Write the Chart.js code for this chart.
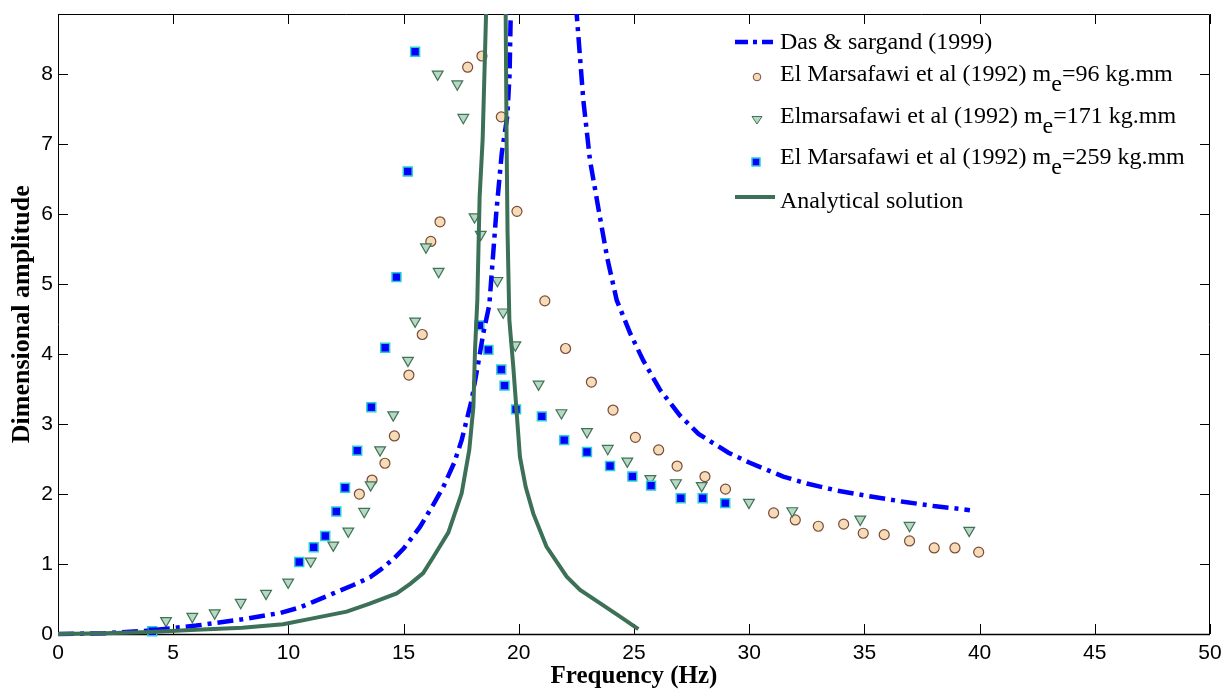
<!DOCTYPE html>
<html>
<head>
<meta charset="utf-8">
<script src="https://cdn.jsdelivr.net/npm/chart.js@4.4.0/dist/chart.umd.min.js"></script>
<style>
    html, body { margin: 0; padding: 0; background: #fff; }
    #wrap { position: relative; width: 1231px; height: 692px; }
    #chart { position: absolute; left: 0; top: 0; }
    .lg { position: absolute; white-space: nowrap; font-family: "Liberation Serif", "Times New Roman", serif; font-size: 24px; line-height: 30px; color: #000; }
    .lg .sub { position: relative; top: 10px; }
    .mk { position: absolute; }
</style>
</head>
<body>
<div id="wrap">
    <canvas id="chart" width="1231" height="692"></canvas>

    <svg class="mk" style="left:730px;top:27px" width="48" height="30">
        <line x1="5" y1="15" x2="43" y2="15" stroke="#0000ff" stroke-width="4.5" stroke-dasharray="13 5 4 5"/>
    </svg>
    <div class="lg" style="left:780px;top:26px">Das &amp; sargand (1999)</div>

    <svg class="mk" style="left:733px;top:62px" width="48" height="30">
        <circle cx="24" cy="15" r="3.8" fill="#f6dcb6" stroke="#7a4a3a" stroke-width="1"/>
    </svg>
    <div class="lg" style="left:780px;top:58px">El Marsafawi et al (1992) m<span class="sub">e</span>=96 kg.mm</div>

    <svg class="mk" style="left:733px;top:105px" width="48" height="30">
        <polygon points="19,11.5 29,11.5 24,19" fill="#b8d8c3" stroke="#3f7357" stroke-width="1"/>
    </svg>
    <div class="lg" style="left:780px;top:100px">Elmarsafawi et al (1992) m<span class="sub">e</span>=171 kg.mm</div>

    <svg class="mk" style="left:732px;top:147px" width="48" height="30">
        <rect x="20" y="11" width="8" height="8" fill="#0000ff" stroke="#2ccfd0" stroke-width="1.5"/>
    </svg>
    <div class="lg" style="left:780px;top:141px">El Marsafawi et al (1992) m<span class="sub">e</span>=259 kg.mm</div>

    <svg class="mk" style="left:730px;top:182px" width="48" height="30">
        <line x1="5" y1="15" x2="45" y2="15" stroke="#3d7157" stroke-width="4"/>
    </svg>
    <div class="lg" style="left:780px;top:185px">Analytical solution</div>
</div>

<script>
// ------------------------
// Axis ticks
// ------------------------
const X_TICKS = [0, 5, 10, 15, 20, 25, 30, 35, 40, 45, 50];
const Y_TICKS = [0, 1, 2, 3, 4, 5, 6, 7, 8];
const Y_MAX = 8.86;

// ------------------------
// Das & sargand (1999) - dash-dot curve (peak runs off the top)
// ------------------------
const DAS_X = [0, 2, 4, 6, 8, 9.64, 10.5, 11.08, 11.95, 12.82, 13.54, 14.0, 14.55, 15.0, 15.71, 16.29, 16.72, 17.2, 17.52, 17.95,
    18.24, 18.46, 18.72, 19.02, 19.26, 19.5, 19.6, 19.65, 21.0, 22.51, 22.8, 23.09, 23.52, 23.84, 24.25, 24.83, 25.4, 26.13,
    27.0, 27.8, 29.1, 30.0, 31.48, 32.5, 33.8, 35.0, 36.69, 38.0, 39.58];
const DAS_Y = [0, 0.01, 0.05, 0.12, 0.21, 0.30, 0.38, 0.46, 0.58, 0.70, 0.81, 0.92, 1.07, 1.22, 1.53, 1.85, 2.10, 2.45, 2.77, 3.34,
    3.87, 4.30, 4.70, 6.01, 6.87, 7.40, 8.00, 8.87, 14.0, 8.87, 7.63, 6.77, 5.96, 5.37, 4.77, 4.30, 3.91, 3.49,
    3.12, 2.86, 2.59, 2.45, 2.25, 2.15, 2.05, 1.98, 1.89, 1.83, 1.77];

// ------------------------
// El Marsafawi et al (1992) me=96 kg.mm - circles
// ------------------------
const M96_X = [13.08, 13.63, 14.19, 14.6, 15.23, 15.81, 16.18, 16.58, 17.78, 18.4, 19.24, 19.92, 21.13, 22.03, 23.15, 24.09,
    25.06, 26.07, 26.87, 28.08, 28.97, 31.06, 32.0, 33.0, 34.1, 34.95, 35.86, 36.96, 38.03, 38.93, 39.96];
const M96_Y = [2.00, 2.20, 2.44, 2.83, 3.70, 4.28, 5.61, 5.89, 8.10, 8.26, 7.39, 6.04, 4.76, 4.08, 3.60, 3.20,
    2.81, 2.63, 2.40, 2.25, 2.07, 1.73, 1.63, 1.54, 1.57, 1.44, 1.42, 1.33, 1.23, 1.23, 1.17];

// ------------------------
// Elmarsafawi et al (1992) me=171 kg.mm - triangles
// ------------------------
const M171_X = [4.69, 5.83, 6.8, 7.93, 9.03, 9.99, 10.97, 11.95, 12.6, 13.29, 13.57, 13.98, 14.55, 15.19, 15.5, 15.97, 16.52,
    16.48, 17.33, 17.59, 18.08, 18.35, 19.07, 19.32, 19.85, 20.86, 21.85, 22.96, 23.86, 24.71, 25.71, 26.82, 27.94,
    29.99, 31.87, 34.82, 36.96, 39.55];
const M171_Y = [0.19, 0.25, 0.30, 0.45, 0.58, 0.74, 1.04, 1.27, 1.47, 1.75, 2.13, 2.63, 3.13, 3.91, 4.47, 5.53, 5.18,
    8.00, 7.86, 7.38, 5.96, 5.71, 5.05, 4.60, 4.13, 3.57, 3.16, 2.89, 2.65, 2.47, 2.22, 2.16, 2.12,
    1.88, 1.76, 1.64, 1.55, 1.48];

// ------------------------
// El Marsafawi et al (1992) me=259 kg.mm - squares
// ------------------------
const M259_X = [4.09, 10.47, 11.1, 11.6, 12.08, 12.46, 12.99, 13.6, 14.2, 14.69, 15.18, 15.5, 18.29, 18.68, 19.24, 19.38,
    19.88, 21.0, 21.97, 22.96, 23.96, 24.93, 25.74, 27.03, 27.98, 28.96];
const M259_Y = [0.04, 1.03, 1.24, 1.40, 1.75, 2.09, 2.62, 3.24, 4.09, 5.10, 6.61, 8.32, 4.41, 4.06, 3.78, 3.55,
    3.21, 3.11, 2.77, 2.60, 2.40, 2.25, 2.12, 1.94, 1.94, 1.87];

// ------------------------
// Analytical solution - solid curve (peak runs off the top)
// ------------------------
const AN_X = [0, 2, 4, 6, 8, 9.77, 11, 12.53, 13.5, 14.7, 15.3, 15.85, 16.29, 16.94, 17.52, 17.85, 18.03, 18.1, 18.2, 18.3,
    18.43, 18.58, 19.0, 19.43, 19.47, 19.51, 19.59, 19.76, 20.05, 20.3, 20.63, 21.2, 22.08, 22.66, 23.52, 24.3, 25.19];
const AN_Y = [0, 0.01, 0.03, 0.06, 0.09, 0.14, 0.22, 0.32, 0.43, 0.58, 0.72, 0.87, 1.10, 1.45, 2.01, 2.63, 3.25, 4.06, 4.77, 6.25,
    7.06, 8.87, 20.0, 8.87, 7.06, 5.77, 4.49, 3.82, 2.53, 2.10, 1.72, 1.25, 0.82, 0.63, 0.44, 0.27, 0.07];

const TICK_LEN = 10;
const pts = (xs, ys) => xs.map((x, i) => ({ x: x, y: ys[i] }));

// ------------------------
// Box frame with inward ticks on all four sides
// ------------------------
const axesBox = {
    id: "axesBox",
    beforeDatasetsDraw(chart) {
        const { ctx, chartArea: a, scales } = chart;
        const x = scales.x, y = scales.y;
        ctx.save();
        ctx.strokeStyle = "#000";
        ctx.lineWidth = 1;
        ctx.beginPath();
        ctx.rect(a.left + 0.5, a.top + 0.5, a.right - a.left - 1, a.bottom - a.top);
        X_TICKS.forEach(v => {
            const px = Math.round(x.getPixelForValue(v)) + 0.5;
            ctx.moveTo(px, a.bottom);
            ctx.lineTo(px, a.bottom - TICK_LEN);
            ctx.moveTo(px, a.top);
            ctx.lineTo(px, a.top + TICK_LEN);
        });
        Y_TICKS.forEach(v => {
            const py = Math.round(y.getPixelForValue(v)) + 0.5;
            ctx.moveTo(a.left, py);
            ctx.lineTo(a.left + TICK_LEN, py);
            ctx.moveTo(a.right, py);
            ctx.lineTo(a.right - TICK_LEN, py);
        });
        ctx.stroke();
        ctx.beginPath();
        ctx.lineWidth = 1.5;
        ctx.moveTo(a.left, a.bottom + 0.5);
        ctx.lineTo(a.right, a.bottom + 0.5);
        ctx.stroke();
        ctx.restore();
    },
};

const lineClip = { left: 5, top: 0, right: 5, bottom: 5 };

new Chart(document.getElementById("chart").getContext("2d"), {
    type: "scatter",
    data: {
        datasets: [
            {
                label: "El Marsafawi et al (1992) me=96 kg.mm",
                data: pts(M96_X, M96_Y),
                pointStyle: "circle",
                pointRadius: 5,
                pointBackgroundColor: "#f6dcb6",
                pointBorderColor: "#7a4a3a",
                pointBorderWidth: 1.2,
                clip: false,
                order: 4,
            },
            {
                label: "Elmarsafawi et al (1992) me=171 kg.mm",
                data: pts(M171_X, M171_Y),
                pointStyle: "triangle",
                rotation: 180,
                pointRadius: 6.2,
                pointBackgroundColor: "#b8d8c3",
                pointBorderColor: "#3f7357",
                pointBorderWidth: 1.2,
                clip: false,
                order: 3,
            },
            {
                label: "El Marsafawi et al (1992) me=259 kg.mm",
                data: pts(M259_X, M259_Y),
                pointStyle: "rect",
                pointRadius: 6.3,
                pointBackgroundColor: "#0000ff",
                pointBorderColor: "#2ccfd0",
                pointBorderWidth: 1.5,
                clip: false,
                order: 2,
            },
            {
                label: "Das & sargand (1999)",
                data: pts(DAS_X, DAS_Y),
                showLine: true,
                borderColor: "#0000ff",
                borderWidth: 4.5,
                borderDash: [16, 6, 4, 6],
                pointRadius: 0,
                tension: 0,
                clip: lineClip,
                order: 1,
            },
            {
                label: "Analytical solution",
                data: pts(AN_X, AN_Y),
                showLine: true,
                borderColor: "#3d7157",
                borderWidth: 4,
                pointRadius: 0,
                tension: 0,
                clip: lineClip,
                order: 0,
            },
        ],
    },
    options: {
        responsive: false,
        animation: false,
        devicePixelRatio: 1,
        layout: { padding: { top: 14, right: 21, left: 0, bottom: 0 } },
        plugins: { legend: { display: false }, tooltip: { enabled: false } },
        scales: {
            x: {
                type: "linear",
                min: 0,
                max: 50,
                afterBuildTicks: s => { s.ticks = X_TICKS.map(v => ({ value: v })); },
                afterFit: s => { s.height = 58; s.paddingLeft = 0; s.paddingRight = 0; },
                grid: { display: false, drawTicks: false },
                border: { display: false },
                ticks: {
                    color: "#000",
                    padding: 7,
                    maxRotation: 0,
                    font: { family: "'Liberation Sans', Arial, sans-serif", size: 21 },
                },
                title: {
                    display: true,
                    text: "Frequency (Hz)",
                    color: "#000",
                    padding: { top: 0, bottom: 0 },
                    font: { family: "'Liberation Serif', 'Times New Roman', serif", size: 25, weight: "bold" },
                },
            },
            y: {
                type: "linear",
                min: 0,
                max: Y_MAX,
                afterBuildTicks: s => { s.ticks = Y_TICKS.map(v => ({ value: v })); },
                afterFit: s => { s.width = 58; s.paddingTop = 0; s.paddingBottom = 0; },
                grid: { display: false, drawTicks: false },
                border: { display: false },
                ticks: {
                    color: "#000",
                    padding: 5,
                    font: { family: "'Liberation Sans', Arial, sans-serif", size: 21 },
                },
                title: {
                    display: true,
                    text: "   Dimensional amplitude",
                    color: "#000",
                    padding: { top: 7, bottom: 0 },
                    font: { family: "'Liberation Serif', 'Times New Roman', serif", size: 26, weight: "bold" },
                },
            },
        },
    },
    plugins: [axesBox],
});
</script>
</body>
</html>
